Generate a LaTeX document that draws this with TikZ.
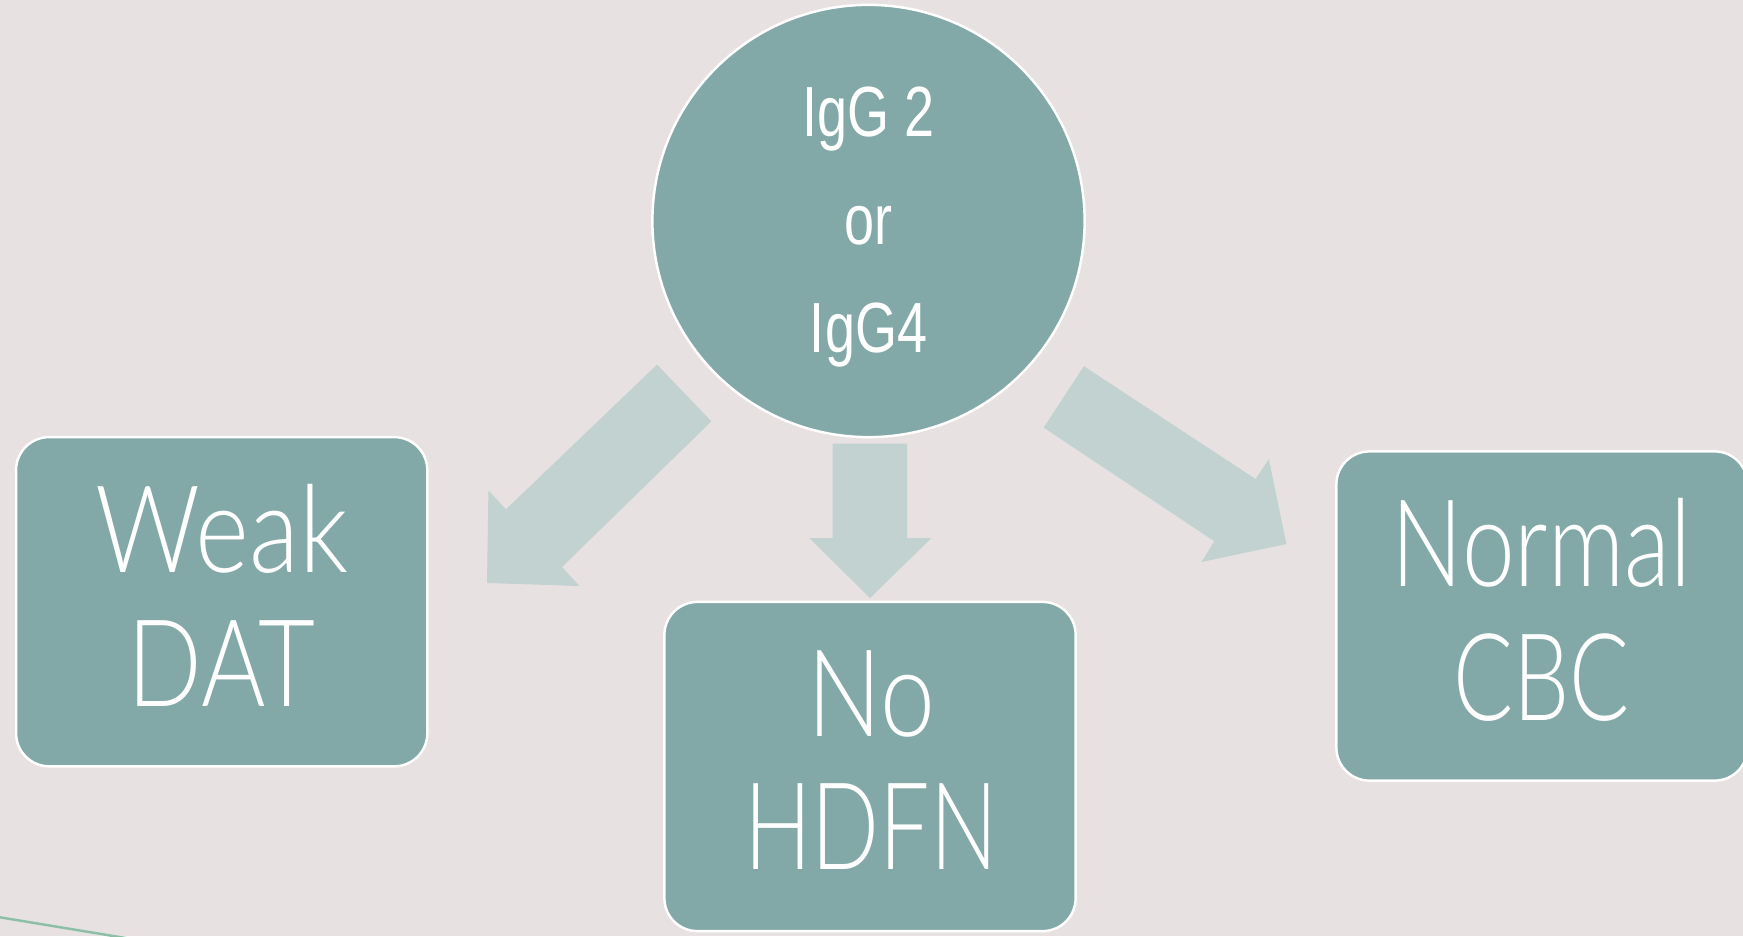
\documentclass[tikz,border=0pt]{standalone}
\usepackage{graphicx}
\usepackage{fontspec}
\newfontfamily\boxfont{Lato Light}[FakeStretch=0.78]
\newfontfamily\circfont{Liberation Sans}[FakeStretch=0.76]
\newcommand{\hsq}[2]{\scalebox{#1}[1]{#2}}
\definecolor{bg}{HTML}{E7E2E1}
\definecolor{tealbox}{HTML}{82A9A7}
\definecolor{arrowc}{HTML}{C1D2D0}
\definecolor{linec}{HTML}{8DBFA6}
\begin{document}
\begin{tikzpicture}[x=0.01cm,y=-0.01cm,
  stepbox/.style={draw=white,line width=0.7pt,fill=tealbox,rounded corners=0.33cm,
    minimum width=4.11cm,minimum height=3.29cm,inner sep=0pt},
  circ/.style={circle,draw=white,line width=0.7pt,fill=tealbox,minimum size=4.32cm,inner sep=0pt},
  bigtxt/.style={text=white,align=center,inner sep=0pt,font=\boxfont\fontsize{34.5pt}{38pt}\selectfont},
  circtxt/.style={text=white,align=center,inner sep=0pt,font=\circfont\fontsize{20.2pt}{30.6pt}\selectfont},
  blockarrow/.style={fill=arrowc,draw=none}]
\useasboundingbox (0,0) rectangle (1743,936);
\fill[bg] (0,0) rectangle (1743,936);
\clip (0,0) rectangle (1743,936);
% decorative line bottom-left
\coordinate (l1) at (0,917.3);
\coordinate (l2) at (200,950.3);
\draw[linec,line width=0.7pt] (l1) -- (l2);
% central circle
\node[circ] (top) at (868.5,221) {};
\node[circtxt] (toptxt) at (868.5,227) {IgG 2\\or\\IgG4};
% boxes
\node[stepbox] (weak) at (221.7,601.7) {};
\node[bigtxt] (weaktxt) at (221.8,595.4) {\hsq{1.09}{Weak}\\\hsq{1.04}{DAT}};
\node[stepbox] (nohdfn) at (870,766.5) {};
\node[bigtxt] (nohdfntxt) at (871,760.2) {\hsq{1.04}{No}\\\hsq{0.945}{HDFN}};
\node[stepbox] (normal) at (1542,616) {};
\node[bigtxt] (normaltxt) at (1541.5,609.9) {\hsq{1.0}{Normal}\\\hsq{0.94}{CBC}};
% block arrows
\fill[blockarrow] (657,364.6) -- (711.4,421.3) -- (562,567) -- (579.5,586) -- (487,583)
  -- (488.4,490.5) -- (506,509.3) -- cycle;
\fill[blockarrow] (832.6,443.5) -- (907,443.5) -- (907,538) -- (931.5,538) -- (870,598)
  -- (809.3,538) -- (832.6,538) -- cycle;
\fill[blockarrow] (1083.9,366.2) -- (1255.5,479) -- (1268.8,459) -- (1286.4,544)
  -- (1201.5,562) -- (1214.3,541.2) -- (1043.7,427.6) -- cycle;
\end{tikzpicture}
\end{document}
